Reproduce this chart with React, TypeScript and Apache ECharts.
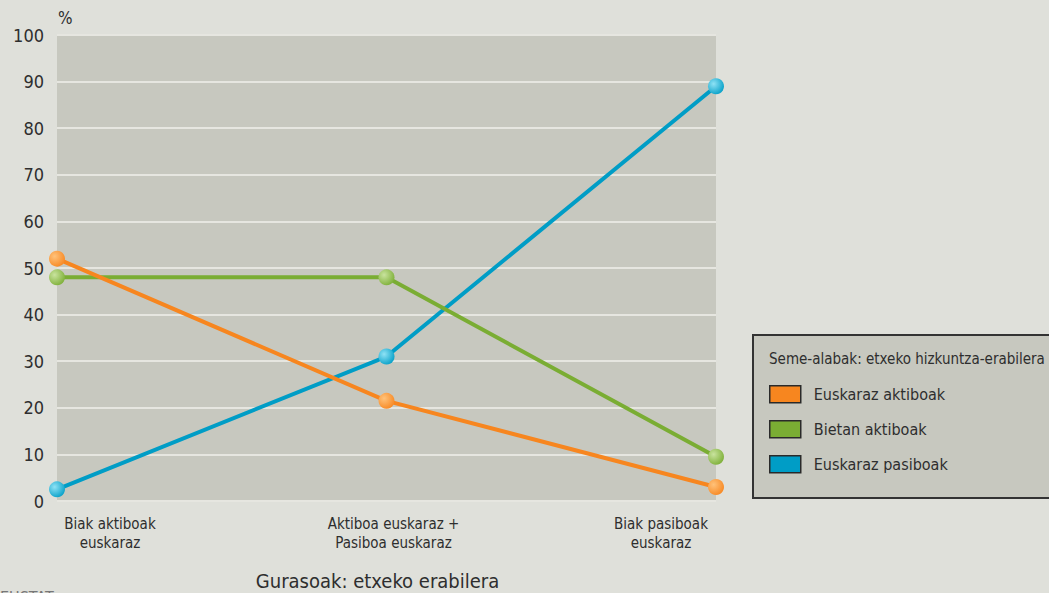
import React, { useEffect, useRef } from "react";
import * as echarts from "echarts";

const categories = ["Biak aktiboak\neuskaraz", "Aktiboa euskaraz +\nPasiboa euskaraz", "Biak pasiboak\neuskaraz"];
const seriesNames = ["Euskaraz aktiboak", "Bietan aktiboak", "Euskaraz pasiboak"];
const euskarazAktiboak = [52, 21.5, 3];
const bietanAktiboak = [48, 48, 9.5];
const euskarazPasiboak = [2.5, 31, 89];
const yTicks = [0, 10, 20, 30, 40, 50, 60, 70, 80, 90, 100];

const FONT = '"Liberation Sans Narrow", "DejaVu Sans Condensed", "Liberation Sans", sans-serif';
const TEXT = "#2e2e2e";
const colors = ["#f7861f", "#7aad33", "#009dc6"];
const lights = ["#ffc27a", "#c9e39e", "#8fe2f5"];

function sphere(i: number) {
  return new echarts.graphic.RadialGradient(0.35, 0.35, 0.75, [
    { offset: 0, color: lights[i] },
    { offset: 1, color: colors[i] },
  ]);
}

export default function App() {
  const ref = useRef<HTMLDivElement>(null);
  useEffect(() => {
    const chart = echarts.init(ref.current!, null, { renderer: "svg" });
    const datas = [euskarazAktiboak, bietanAktiboak, euskarazPasiboak];
    const labelIdx = ["a", "b", "c"];
    const lab = { fontFamily: FONT, fontSize: 15, color: TEXT, lineHeight: 19 };
    chart.setOption({
      animation: false,
      backgroundColor: "#dfe0da",
      textStyle: { fontFamily: FONT },
      grid: {
        left: 57,
        right: 333,
        top: 35,
        bottom: 92,
        containLabel: false,
        outerBoundsMode: "none",
        show: true,
        backgroundColor: "#c7c8bf",
        borderWidth: 0,
      },
      xAxis: {
        type: "category",
        data: categories,
        boundaryGap: false,
        axisLine: { show: false },
        axisTick: { show: false },
        splitLine: { show: false },
        name: "Gurasoak: etxeko erabilera",
        nameLocation: "middle",
        nameGap: 70,
        nameTextStyle: { fontFamily: FONT, fontSize: 20, color: TEXT, padding: [0, 18, 0, 0] },
        axisLabel: {
          interval: 0,
          margin: 13,
          formatter: (v: string, i: number) =>
            v.split("\n").map((l) => `{${labelIdx[i]}|${l}}`).join("\n"),
          rich: {
            a: { ...lab, padding: [0, 0, 0, 106] },
            b: { ...lab, padding: [0, 0, 0, 14] },
            c: { ...lab, padding: [0, 110, 0, 0] },
          },
        },
      },
      yAxis: {
        type: "value",
        min: yTicks[0],
        max: yTicks[yTicks.length - 1],
        interval: 10,
        name: "%",
        nameGap: 9,
        nameTextStyle: { fontFamily: FONT, fontSize: 17, color: TEXT, align: "left", padding: [0, 0, 0, 1] },
        axisLine: { show: false },
        axisTick: { show: false },
        axisLabel: { fontFamily: FONT, fontSize: 18, color: TEXT, margin: 13 },
        splitLine: { lineStyle: { color: "#e6e6e0", width: 2 } },
      },
      legend: {
        orient: "vertical",
        left: 764,
        top: 380,
        padding: [5, 5, 5, 5],
        icon: "rect",
        itemWidth: 31,
        itemHeight: 17,
        itemGap: 16.5,
        textStyle: { fontFamily: FONT, fontSize: 16, lineHeight: 17, color: TEXT, padding: [0, 0, 0, 8] },
        data: seriesNames.map((n, i) => ({
          name: n,
          itemStyle: { color: colors[i], borderColor: "#2a2a2a", borderWidth: 1.5 },
        })),
      },
      graphic: [
        {
          type: "rect",
          z: -1,
          shape: { x: 753, y: 335, width: 320, height: 163 },
          style: { fill: "#c7c8bf", stroke: "#333", lineWidth: 2 },
        },
        {
          type: "text",
          left: 769,
          top: 351,
          style: { text: "Seme-alabak: etxeko hizkuntza-erabilera", fontFamily: FONT, fontSize: 15, fill: TEXT },
        },
        {
          type: "text",
          left: 0,
          top: 589,
          style: { text: "EUSTAT", fontFamily: FONT, fontSize: 16, fill: "#777" },
        },
      ],
      series: datas.map((d, i) => ({
        name: seriesNames[i],
        type: "line",
        data: d,
        symbol: "circle",
        symbolSize: 16,
        lineStyle: { color: colors[i], width: 4 },
        itemStyle: { color: sphere(i) },
        z: 3 + (2 - i),
      })),
    });
    return () => chart.dispose();
  }, []);
  return <div ref={ref} style={{ position: "fixed", left: 0, top: 0, width: 1049, height: 593 }} />;
}
